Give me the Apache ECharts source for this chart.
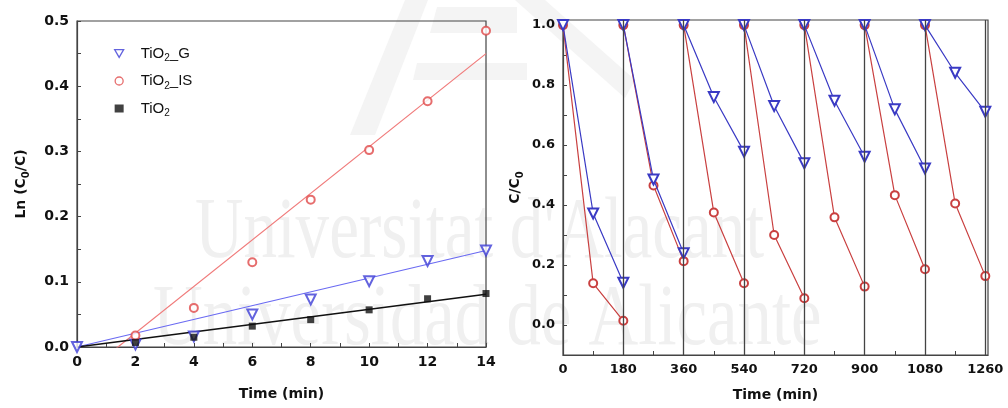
<!DOCTYPE html>
<html>
<head>
<meta charset="utf-8">
<script src="https://cdn.jsdelivr.net/npm/echarts@6/dist/echarts.min.js"></script>
<style>
html, body { margin: 0; padding: 0; background: #fff; }
#demo { width: 1008px; height: 408px; }
</style>
</head>
<body>
<div id="demo"></div>
<script>
// 左图: Ln(C0/C) 随时间
var kTime = [0, 2, 4, 6, 8, 10, 12, 14];
var kG    = [0, 0.004, 0.016, 0.050, 0.073, 0.101, 0.132, 0.148];
var kIS   = [null, 0.0175, 0.060, 0.130, 0.226, 0.302, 0.377, 0.485];
var kTiO2 = [null, 0.007, 0.015, 0.032, 0.042, 0.057, 0.074, 0.082];
// 拟合直线 (两端点)
var fitX    = [0, 14];
var fitG    = [0, 0.148];
var fitIS   = [-0.05, 0.45];
var fitTiO2 = [0, 0.081];

// 右图: 循环实验 C/C0
var cycStart = [0, 180, 360, 540, 720, 900, 1080];
var cycStep  = [0, 90, 180];
var cycG = [
    [1.0, 0.372, 0.141],
    [1.0, 0.485, 0.239],
    [1.0, 0.760, 0.578],
    [1.0, 0.730, 0.539],
    [1.0, 0.748, 0.561],
    [1.0, 0.719, 0.522],
    [1.0, 0.841, 0.711]
];
var cycIS = [
    [1.0, 0.139, 0.014],
    [1.0, 0.465, 0.213],
    [1.0, 0.375, 0.139],
    [1.0, 0.300, 0.089],
    [1.0, 0.359, 0.128],
    [1.0, 0.433, 0.186],
    [1.0, 0.405, 0.163]
];
var sepLines = [180, 360, 540, 720, 900, 1080, 1260];

function pairs(xs, ys) {
    var d = [];
    xs.forEach(function (x, i) { if (ys[i] != null) d.push([x, ys[i]]); });
    return d;
}
function cycData(vals) {
    var d = [];
    for (var i = 0; i < cycStart.length; i++) {
        if (i > 0) d.push([cycStart[i], '-']);
        for (var j = 0; j < cycStep.length; j++) {
            d.push([cycStart[i] + cycStep[j], vals[i][j]]);
        }
    }
    return d;
}

var FONT = 'DejaVu Sans';
var BLUE_L = '#3c3cd6', RED_L = '#e04848';
var subRich = {
    n: { fontFamily: FONT, fontWeight: 'bold', fontSize: 14, lineHeight: 20, verticalAlign: 'middle', color: '#111' },
    s: { fontFamily: FONT, fontWeight: 'bold', fontSize: 10, lineHeight: 10, verticalAlign: 'bottom', color: '#111' }
};
var legRich = {
    g: { width: 12 },
    n: { fontFamily: 'Liberation Sans', fontSize: 15, lineHeight: 20, verticalAlign: 'middle', color: '#111' },
    s: { fontFamily: 'Liberation Sans', fontSize: 10, lineHeight: 10, verticalAlign: 'bottom', color: '#111' }
};
var legNames = {
    'TiO2_G': '{g|}{n|TiO}{s|2}{n|_G}',
    'TiO2_IS': '{g|}{n|TiO}{s|2}{n|_IS}',
    'TiO2': '{g|}{n|TiO}{s|2}'
};

var myChart = echarts.init(document.getElementById('demo'));

function axisCommon(fs) {
    return {
        axisLine: { show: true, onZero: false, lineStyle: { color: '#444', width: 1.2 } },
        axisTick: { show: true, inside: true, length: 4, lineStyle: { color: '#444' } },
        splitLine: { show: false },
        axisLabel: { color: '#111', fontFamily: FONT, fontWeight: 'bold', fontSize: fs, margin: 8 }
    };
}

var lx = axisCommon(14), ly = axisCommon(14), rx = axisCommon(13), ry = axisCommon(13);
var logoFill = '#f4f4f4';

option = {
    animation: false,
    backgroundColor: '#fff',
    graphic: [
        { type: 'polygon', z: -100, silent: true, shape: { points: [[405, 0], [428, 0], [375, 135], [350, 135]] }, style: { fill: logoFill } },
        { type: 'polygon', z: -100, silent: true, shape: { points: [[437, 7], [517, 7], [517, 33], [430, 33]] }, style: { fill: logoFill } },
        { type: 'polygon', z: -100, silent: true, shape: { points: [[417, 63], [527, 63], [527, 80], [413, 80]] }, style: { fill: logoFill } },
        { type: 'polygon', z: -100, silent: true, shape: { points: [[515, 0], [545, 0], [635, 80], [625, 98]] }, style: { fill: logoFill } },
        {
            type: 'text', x: 195, y: 277, scaleX: 0.78, z: -100, silent: true,
            style: { text: "Universitat d'Alacant", font: '86px "Liberation Serif"', fill: '#f0f0f0', verticalAlign: 'bottom' }
        },
        {
            type: 'text', x: 153, y: 364, scaleX: 0.80, z: -100, silent: true,
            style: { text: 'Universidad de Alicante', font: '86px "Liberation Serif"', fill: '#f0f0f0', verticalAlign: 'bottom' }
        }
    ],
    grid: [
        { left: 77, right: 522, top: 21, bottom: 61, show: true, borderColor: '#444', borderWidth: 1.2, backgroundColor: 'transparent' },
        { left: 563, right: 20, top: 20, bottom: 53, show: true, borderColor: '#444', borderWidth: 1.2, backgroundColor: 'transparent' }
    ],
    legend: {
        data: [
            { name: 'TiO2_G', icon: 'path://M0,0 L10,0 L5,8.7 Z', itemStyle: { color: '#fff', borderColor: BLUE_L, borderWidth: 1.3 } },
            { name: 'TiO2_IS', icon: 'circle', itemStyle: { color: '#fff', borderColor: RED_L, borderWidth: 1.3 } },
            { name: 'TiO2', icon: 'rect', itemStyle: { color: '#111', borderWidth: 0 } }
        ],
        orient: 'vertical',
        left: 109,
        top: 41,
        itemGap: 10,
        itemWidth: 9,
        itemHeight: 8,
        formatter: function (name) { return legNames[name]; },
        textStyle: { rich: legRich }
    },
    xAxis: [
        Object.assign(lx, {
            gridIndex: 0, type: 'value', min: 0, max: 14, interval: 1,
            name: 'Time (min)', nameLocation: 'middle', nameGap: 40,
            nameTextStyle: { fontFamily: FONT, fontWeight: 'bold', fontSize: 14, color: '#111' },
            axisLabel: Object.assign(lx.axisLabel, {
                formatter: function (v) { return v % 2 === 0 ? String(v) : ''; }
            })
        }),
        Object.assign(rx, {
            gridIndex: 1, type: 'value', min: 0, max: 1268, interval: 90,
            name: 'Time (min)', nameLocation: 'middle', nameGap: 33,
            nameTextStyle: { fontFamily: FONT, fontWeight: 'bold', fontSize: 14, color: '#111' },
            axisLabel: Object.assign(rx.axisLabel, {
                showMaxLabel: false,
                formatter: function (v) { return v % 180 === 0 ? String(v) : ''; }
            })
        })
    ],
    yAxis: [
        Object.assign(ly, {
            gridIndex: 0, type: 'value', min: 0, max: 0.5, interval: 0.05,
            name: '{n|Ln (C}{s|0}{n|/C)}', nameLocation: 'middle', nameGap: 46,
            nameTextStyle: { rich: subRich },
            axisLabel: Object.assign(ly.axisLabel, {
                formatter: function (v) { var k = Math.round(v * 100); return k % 10 === 0 ? (k / 100).toFixed(1) : ''; }
            })
        }),
        Object.assign(ry, {
            gridIndex: 1, type: 'value', min: -0.1, max: 1.017, interval: 0.1,
            name: '{n|C/C}{s|0}', nameLocation: 'middle', nameGap: 38,
            nameTextStyle: { rich: subRich },
            axisLabel: Object.assign(ry.axisLabel, {
                showMaxLabel: false,
                formatter: function (v) { var k = Math.round(v * 10); return (k >= 0 && k % 2 === 0 && Math.abs(v * 10 - k) < 1e-6) ? (k / 10).toFixed(1) : ''; }
            })
        })
    ],
    series: [
        // 左图拟合线
        { name: 'fitIS', type: 'line', xAxisIndex: 0, yAxisIndex: 0, data: pairs(fitX, fitIS), symbol: 'none', lineStyle: { color: '#f07a7a', width: 1.2 }, z: 2 },
        { name: 'fitG', type: 'line', xAxisIndex: 0, yAxisIndex: 0, data: pairs(fitX, fitG), symbol: 'none', lineStyle: { color: '#6a6af2', width: 1.2 }, z: 2 },
        { name: 'fitTiO2', type: 'line', xAxisIndex: 0, yAxisIndex: 0, data: pairs(fitX, fitTiO2), symbol: 'none', lineStyle: { color: '#111', width: 1.5 }, z: 2 },
        // 左图数据点
        { name: 'TiO2_G', type: 'scatter', xAxisIndex: 0, yAxisIndex: 0, data: pairs(kTime, kG), symbol: 'emptyTriangle', symbolRotate: 180, symbolSize: 10, itemStyle: { color: BLUE_L, borderWidth: 1.3 }, clip: true, z: 3 },
        { name: 'TiO2_IS', type: 'scatter', xAxisIndex: 0, yAxisIndex: 0, data: pairs(kTime, kIS), symbol: 'emptyCircle', symbolSize: 8, itemStyle: { color: RED_L, borderWidth: 1.3 }, clip: true, z: 3 },
        { name: 'TiO2', type: 'scatter', xAxisIndex: 0, yAxisIndex: 0, data: pairs(kTime, kTiO2), symbol: 'rect', symbolSize: 7, itemStyle: { color: '#111' }, clip: true, z: 3 },
        // 右图
        {
            name: 'cycIS', type: 'line', xAxisIndex: 1, yAxisIndex: 1, data: cycData(cycIS),
            symbol: 'emptyCircle', symbolSize: 8, connectNulls: false,
            lineStyle: { color: '#c94040', width: 1.2 }, itemStyle: { color: '#c94040', borderWidth: 1.3 },
            markLine: {
                silent: true, symbol: 'none', animation: false,
                label: { show: false },
                lineStyle: { color: '#444', width: 1.3, type: 'solid' },
                data: sepLines.map(function (v) { return { xAxis: v }; })
            },
            z: 3
        },
        {
            name: 'cycG', type: 'line', xAxisIndex: 1, yAxisIndex: 1, data: cycData(cycG),
            symbol: 'emptyTriangle', symbolRotate: 180, symbolSize: 10, connectNulls: false,
            lineStyle: { color: '#3a3ac4', width: 1.2 }, itemStyle: { color: '#3a3ac4', borderWidth: 1.3 },
            z: 4
        }
    ]
};

myChart.setOption(option);
</script>
</body>
</html>
